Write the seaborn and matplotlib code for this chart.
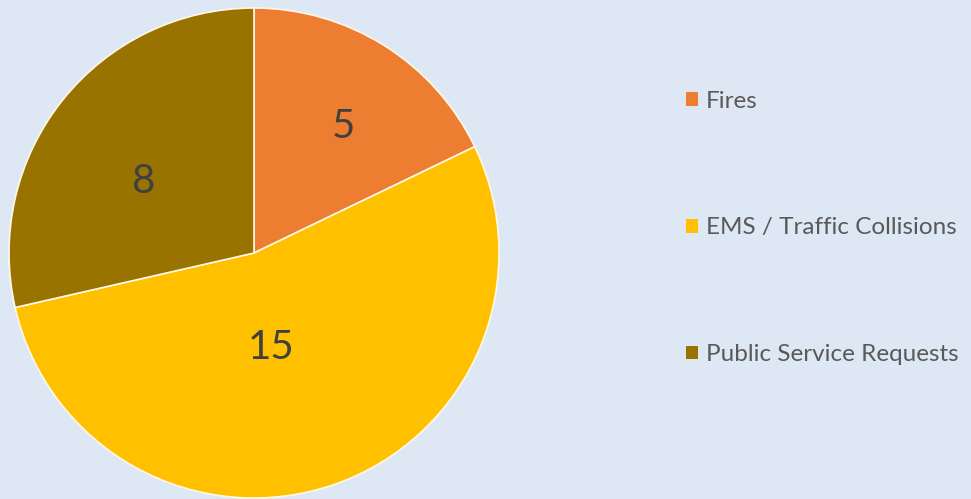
import matplotlib
matplotlib.use("Agg")
import matplotlib.pyplot as plt
import seaborn as sns
from matplotlib.patches import Patch

categories = ["Fires", "EMS / Traffic Collisions", "Public Service Requests"]
values = [5, 15, 8]
colors = ["#ED7D31", "#FFC000", "#997300"]

sns.set_theme(style="white")
plt.rcParams['font.family'] = ['Lato', 'DejaVu Sans']

bg = "#DEE8F4"
fig = plt.figure(figsize=(9.71, 4.99), dpi=100, facecolor=bg)
ax = fig.add_axes([9/971, 1/499, 490/971, 490/499])
ax.set_facecolor(bg)

wedges, _ = ax.pie(values, colors=colors, startangle=90, counterclock=False,
                   wedgeprops=dict(edgecolor="#FFF8E8", linewidth=1.2))
ax.set_xlim(-1, 1)
ax.set_ylim(-1, 1)
ax.set_aspect("equal")
ax.axis("off")

# value labels, positioned as in the reference (axes fraction)
label_pos = [(0.682, 0.759), (0.535, 0.308), (0.2755, 0.645)]
for v, (x, y) in zip(values, label_pos):
    ax.text(x, y, str(v), transform=ax.transAxes, ha="center", va="center",
            fontsize=29, color="#404040")

handles = [Patch(facecolor=c, edgecolor="none") for c in colors]
leg = fig.legend(handles, categories, loc="upper left",
                 bbox_to_anchor=(676/971, 1 - 81/499), frameon=False,
                 fontsize=17.5, labelcolor="#595959", handlelength=0.5,
                 handleheight=0.5, handletextpad=0.33, labelspacing=4.35,
                 borderaxespad=0)

fig.savefig("out.png", dpi=100, facecolor=bg)
